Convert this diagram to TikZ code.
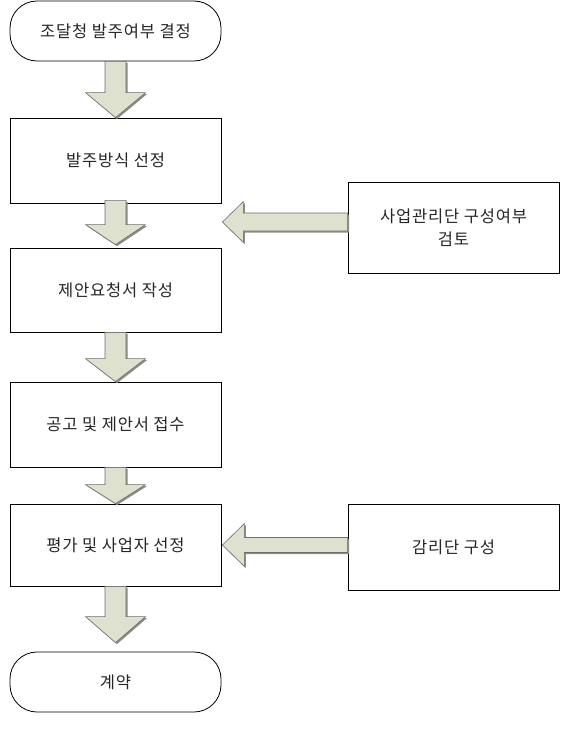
\documentclass[tikz,border=0pt]{standalone}
\usepackage{fontspec}
\newfontfamily\kr[LetterSpace=5]{Noto Sans CJK KR}
\usetikzlibrary{calc}
\definecolor{arrowfill}{RGB}{221,225,205}
\definecolor{arrowline}{RGB}{110,110,110}
\tikzset{
  x=1pt, y=-1pt,
  box/.style={draw=black, line width=0.8pt, fill=white, minimum width=211pt, inner sep=2pt,
    font=\kr\fontsize{16.5}{21}\selectfont, align=center, text=black!85},
  term/.style={box, rounded corners=27pt},
  bigarrow/.style={draw=arrowline, fill=arrowfill, line width=0.6pt, line join=miter},
  arrowshadow/.style={fill=black!45, draw=none},
}
% vertical arrow points, shifted by (#4,#4)
\newcommand\vPts[4]{($(s)+(-10.5+#4,#4)$) -- ($(s)+(10.5+#4,#4)$) -- ($(e)+(10.5+#4,-#3+#4)$) -- ($(e)+(30+#4,-#3+#4)$) -- ($(e)+(#4,#4)$) -- ($(e)+(-30+#4,-#3+#4)$) -- ($(e)+(-10.5+#4,-#3+#4)$) -- cycle}
\newcommand\vArrow[5]{%
  % #1 upper node, #2 lower node, #3 overlap into upper node, #4 head length, #5 gap above lower node
  \path (#1.south) ++(0,-#3) coordinate (s) (#2.north) ++(0,-#5) coordinate (e);
  \fill[arrowshadow] \vPts{}{}{#4}{1.5};
  \draw[bigarrow] \vPts{}{}{#4}{0};}
\newcommand\hPts[4]{($(s)+(#4,-#1+#4)$) -- ($(s)+(#4,#1+#4)$) -- ($(e)+(#3+#4,#1+#4)$) -- ($(e)+(#3+#4,#2+#4)$) -- ($(e)+(#4,#4)$) -- ($(e)+(#3+#4,-#2+#4)$) -- ($(e)+(#3+#4,-#1+#4)$) -- cycle}
\newcommand\hArrow[6]{%
  % #1 source node (right), #2 target node (left), #3 y offset, #4 head length, #5 shaft half width, #6 head half width
  \path ($(#1.west)+(0,#3)$) coordinate (s);
  \path (s -| #2.east) ++(1,0) coordinate (e);
  \fill[arrowshadow] \hPts{#5}{#6}{#4}{1.5};
  \draw[bigarrow] \hPts{#5}{#6}{#4}{0};}
\begin{document}
\begin{tikzpicture}
\useasboundingbox[fill=white] (0,0) rectangle (588,730);
\node[term, minimum height=60pt] (t1) at (115.5,31) {조달청 발주여부 결정};
\node[box, minimum height=85pt] (b1) at (115.5,160.5) {발주방식 선정};
\node[box, minimum height=84pt] (b2) at (115.5,290) {제안요청서 작성};
\node[box, minimum height=85pt] (b3) at (115.5,424.5) {공고 및 제안서 접수};
\node[box, minimum height=82pt] (b4) at (115.5,545) {평가 및 사업자 선정};
\node[term, minimum height=60pt] (t2) at (115.5,682) {계약};
\node[box, minimum height=91pt] (r1) at (453.5,227.5) {사업관리단 구성여부\\[2pt]검토};
\node[box, minimum height=86pt] (r2) at (453.5,547) {감리단 구성};
\vArrow{t1}{b1}{0}{25}{0}
\vArrow{b1}{b2}{3}{20}{3}
\vArrow{b2}{b3}{0}{23}{0}
\vArrow{b3}{b4}{0}{19}{0}
\vArrow{b4}{t2}{0}{26}{9}
\hArrow{r1}{b1}{-5.5}{21}{9}{20.5}
\hArrow{r2}{b4}{-2}{22}{7.5}{21.5}
\end{tikzpicture}
\end{document}
